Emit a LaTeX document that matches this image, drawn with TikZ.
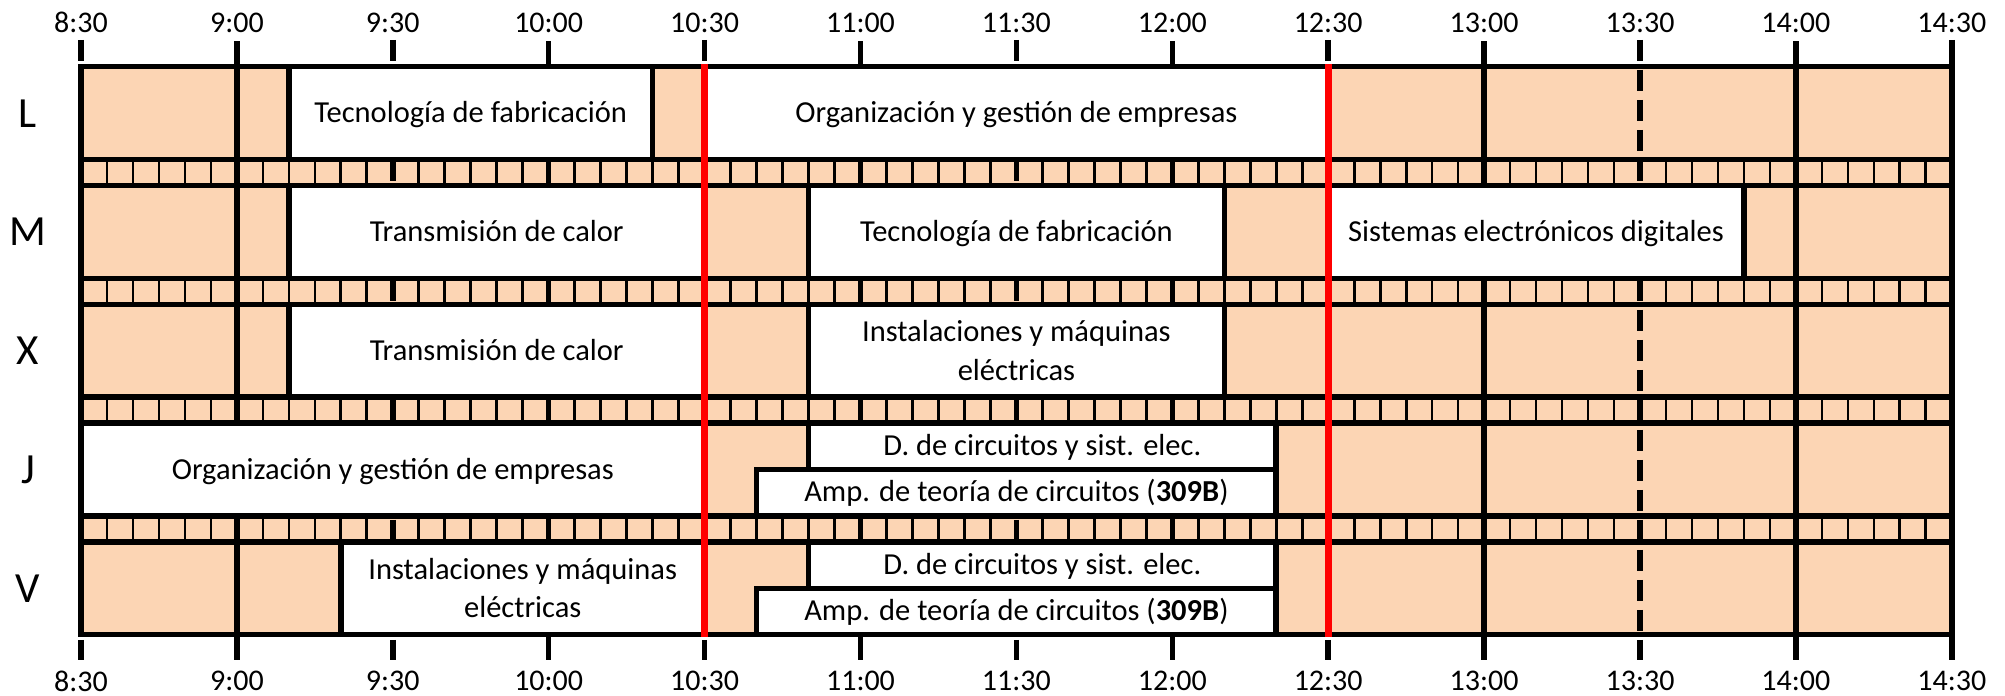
\documentclass[tikz,border=0pt]{standalone}
\usepackage{fontspec}
\setmainfont{Carlito}
\definecolor{peach}{HTML}{FCD5B4}
\tikzset{
  rowline/.style={line width=5.5pt, line cap=rect},
  hourline/.style={line width=5.5pt},
  halfline/.style={line width=5.5pt, dash pattern=on 21pt off 9pt},
  sepline/.style={line width=2.7pt},
  redline/.style={draw=red, line width=7.3pt},
  cls/.style={draw, fill=white, line width=5.5pt},
  txt/.style={font=\fontsize{30.5}{38.5}\selectfont, inner sep=0pt},
  daylbl/.style={font=\fontsize{43}{50}\selectfont, anchor=base, inner sep=0pt},
  timelbl/.style={font=\fontsize{30}{34}\selectfont, inner sep=0pt}
}
\begin{document}
\begin{tikzpicture}[x=5.1967pt, y=-1pt, shift={(81pt,0pt)}]
\useasboundingbox (-15.587,0) rectangle (370.24,696);
% background
\fill[peach] (0,66.7) rectangle (360,634.7);
% strip separators (every 5 minutes)
\foreach \ya/\yb in {159.5/185.5, 278.3/304.3, 397.1/423.1, 515.9/541.9} {
  \foreach \k in {0,...,11} {
    \foreach \j in {5,10,15,20,25} {
      \draw[sepline] ({30*\k+\j},\ya) -- ({30*\k+\j},\yb);
    }
  }
}
% hour lines
\foreach \m in {30,90,150,210,270,330} {
  \draw[hourline] (\m,41.5) -- (\m,660);
}
\draw[hourline] (360,40) -- (360,660);
% half-hour dashed lines
\foreach \m in {0,60,120,180,240,300} {
  \draw[halfline] (\m,40) -- (\m,660);
}
\draw[hourline] (0,66.7) -- (0,634.7);
% row lines
\foreach \y in {66.7,159.5,185.5,278.3,304.3,397.1,423.1,515.9,541.9,634.7} {
  \draw[rowline] (0,\y) -- (360,\y);
}
% class boxes
% L
\draw[cls] (40,66.7) rectangle (110,159.5);
\draw[cls] (120,66.7) rectangle (240,159.5);
% M
\draw[cls] (40,185.5) rectangle (120,278.3);
\draw[cls] (140,185.5) rectangle (220,278.3);
\draw[cls] (240,185.5) rectangle (320,278.3);
% X
\draw[cls] (40,304.3) rectangle (120,397.1);
\draw[cls] (140,304.3) rectangle (220,397.1);
% J
\draw[cls] (0,423.1) rectangle (120,515.9);
\draw[cls] (140,423.1) rectangle (230,469.5);
\draw[cls] (130,469.5) rectangle (230,515.9);
% V
\draw[cls] (50,541.9) rectangle (120,634.7);
\draw[cls] (140,541.9) rectangle (230,588.3);
\draw[cls] (130,588.3) rectangle (230,634.7);
% texts
\node[txt, anchor=base] (tL1) at (75,122.8) {Tecnología de fabricación};
\node[txt, anchor=base] (tL2) at (180,122.8) {Organización y gestión de empresas};
\node[txt, anchor=base] (tM1) at (80,241.6) {Transmisión de calor};
\node[txt, anchor=base] (tM2) at (180,241.6) {Tecnología de fabricación};
\node[txt, anchor=base] (tM3) at (280,241.6) {Sistemas electrónicos digitales};
\node[txt, anchor=base] (tX1) at (80,360.4) {Transmisión de calor};
\node[txt, align=center] (tX2) at (180,350.4) {Instalaciones y máquinas\\eléctricas};
\node[txt, anchor=base] (tJ1) at (60,479.2) {Organización y gestión de empresas};
\node[txt, anchor=base] (tJ2) at (185,456) {D. de circuitos y sist. elec.};
\node[txt, anchor=base] (tJ3) at (180,501.8) {Amp. de teoría de circuitos (\textbf{309B})};
\node[txt, align=center] (tV1) at (85,588) {Instalaciones y máquinas\\eléctricas};
\node[txt, anchor=base] (tV2) at (185,574.8) {D. de circuitos y sist. elec.};
\node[txt, anchor=base] (tV3) at (180,620.6) {Amp. de teoría de circuitos (\textbf{309B})};
% red lines
\draw[redline] (120,63.95) -- (120,637.45);
\draw[redline] (240,63.95) -- (240,637.45);
% day labels
\node[daylbl] (dL) at (-10.2,127.1) {L};
\node[daylbl] (dM) at (-10.2,245.9) {M};
\node[daylbl] (dX) at (-10.2,364.7) {X};
\node[daylbl] (dJ) at (-10.2,483.5) {J};
\node[daylbl] (dV) at (-10.2,602.3) {V};
% time labels
\foreach \m/\t in {0/8:30,30/9:00,60/9:30,90/10:00,120/10:30,150/11:00,180/11:30,210/12:00,240/12:30,270/13:00,300/13:30,330/14:00,360/14:30} {
  \node[timelbl] (top\m) at (\m,22.5) {\t};
  \node[timelbl] (bot\m) at (\m,681) {\t};
}
\end{tikzpicture}
\end{document}
